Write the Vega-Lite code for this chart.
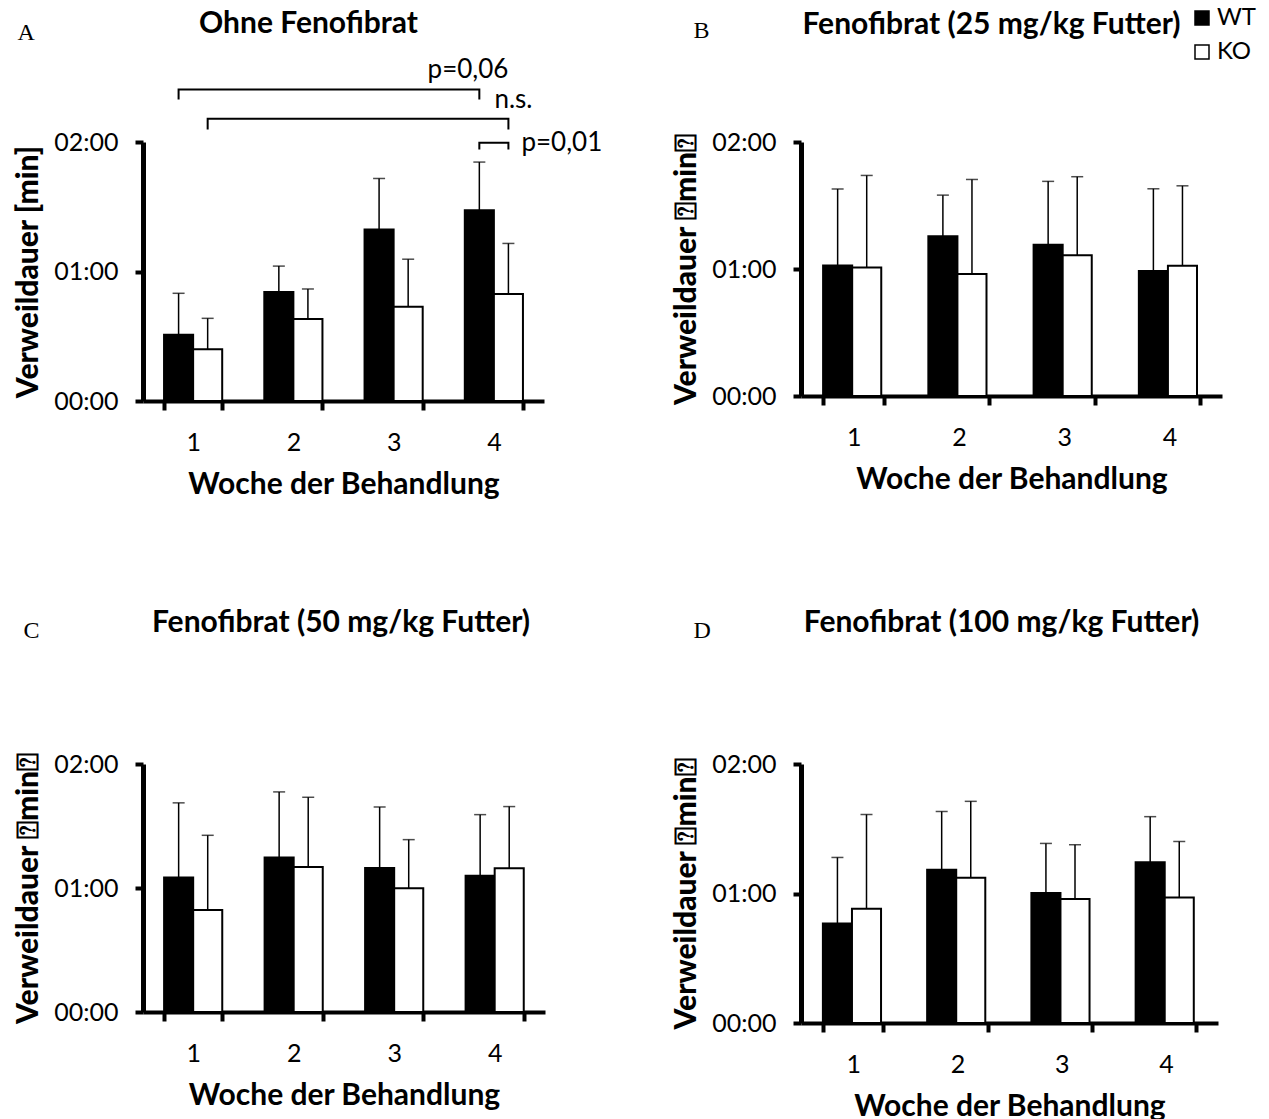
{
  "$schema": "https://vega.github.io/schema/vega-lite/v6.json",
  "padding": {"left": 13, "top": 6, "right": 5, "bottom": 0},
  "config": {
    "font": "Lato",
    "view": {"stroke": null},
    "axis": {"grid": false, "domainColor": "black", "tickColor": "black", "labelColor": "black", "titleColor": "black", "labelFont": "Lato", "titleFont": "Lato"},
    "axisBottom": {"domainWidth": 4, "tickWidth": 4, "tickSize": 9, "labelFontSize": 25, "labelPadding": 20, "labelAngle": 0, "tickBand": "extent", "titleFontSize": 30, "titleFontWeight": "bold", "titlePadding": 14},
    "axisLeft": {"domainWidth": 5, "tickWidth": 4, "tickSize": 8, "labelFontSize": 25, "labelPadding": 17, "titleFontSize": 30, "titleFontWeight": 900, "titlePadding": 10},
    "title": {"font": "Lato", "fontSize": 30, "fontWeight": "bold", "color": "black", "frame": "group", "anchor": "middle"}
  },
  "datasets": {
    "balken": [
      {"panel": "A", "woche": "1", "gruppe": "WT", "wert": 30.7, "oben": 49.9},
      {"panel": "A", "woche": "1", "gruppe": "KO", "wert": 24.0, "oben": 38.3},
      {"panel": "A", "woche": "2", "gruppe": "WT", "wert": 50.5, "oben": 62.5},
      {"panel": "A", "woche": "2", "gruppe": "KO", "wert": 38.0, "oben": 51.9},
      {"panel": "A", "woche": "3", "gruppe": "WT", "wert": 79.5, "oben": 103.1},
      {"panel": "A", "woche": "3", "gruppe": "KO", "wert": 43.7, "oben": 65.7},
      {"panel": "A", "woche": "4", "gruppe": "WT", "wert": 88.4, "oben": 110.7},
      {"panel": "A", "woche": "4", "gruppe": "KO", "wert": 49.6, "oben": 73.0},
      {"panel": "B", "woche": "1", "gruppe": "WT", "wert": 61.7, "oben": 97.8},
      {"panel": "B", "woche": "1", "gruppe": "KO", "wert": 60.7, "oben": 104.2},
      {"panel": "B", "woche": "2", "gruppe": "WT", "wert": 75.5, "oben": 94.9},
      {"panel": "B", "woche": "2", "gruppe": "KO", "wert": 57.6, "oben": 102.3},
      {"panel": "B", "woche": "3", "gruppe": "WT", "wert": 71.4, "oben": 101.4},
      {"panel": "B", "woche": "3", "gruppe": "KO", "wert": 66.5, "oben": 103.6},
      {"panel": "B", "woche": "4", "gruppe": "WT", "wert": 59.0, "oben": 97.9},
      {"panel": "B", "woche": "4", "gruppe": "KO", "wert": 61.5, "oben": 99.3},
      {"panel": "C", "woche": "1", "gruppe": "WT", "wert": 65.1, "oben": 101.2},
      {"panel": "C", "woche": "1", "gruppe": "KO", "wert": 49.3, "oben": 85.5},
      {"panel": "C", "woche": "2", "gruppe": "WT", "wert": 74.7, "oben": 106.5},
      {"panel": "C", "woche": "2", "gruppe": "KO", "wert": 70.2, "oben": 103.9},
      {"panel": "C", "woche": "3", "gruppe": "WT", "wert": 69.7, "oben": 99.2},
      {"panel": "C", "woche": "3", "gruppe": "KO", "wert": 59.9, "oben": 83.4},
      {"panel": "C", "woche": "4", "gruppe": "WT", "wert": 65.9, "oben": 95.5},
      {"panel": "C", "woche": "4", "gruppe": "KO", "wert": 69.6, "oben": 99.4},
      {"panel": "D", "woche": "1", "gruppe": "WT", "wert": 46.1, "oben": 76.7},
      {"panel": "D", "woche": "1", "gruppe": "KO", "wert": 52.9, "oben": 96.6},
      {"panel": "D", "woche": "2", "gruppe": "WT", "wert": 71.0, "oben": 98.0},
      {"panel": "D", "woche": "2", "gruppe": "KO", "wert": 67.3, "oben": 102.7},
      {"panel": "D", "woche": "3", "gruppe": "WT", "wert": 60.2, "oben": 83.2},
      {"panel": "D", "woche": "3", "gruppe": "KO", "wert": 57.4, "oben": 82.6},
      {"panel": "D", "woche": "4", "gruppe": "WT", "wert": 74.5, "oben": 95.6},
      {"panel": "D", "woche": "4", "gruppe": "KO", "wert": 58.1, "oben": 84.1}
    ],
    "klammern": [
      {"klammer": 1, "punkt": 1, "woche": "1", "gruppe": "WT", "y": 139.7},
      {"klammer": 1, "punkt": 2, "woche": "1", "gruppe": "WT", "y": 144.3},
      {"klammer": 1, "punkt": 3, "woche": "4", "gruppe": "WT", "y": 144.3},
      {"klammer": 1, "punkt": 4, "woche": "4", "gruppe": "WT", "y": 139.7},
      {"klammer": 2, "punkt": 1, "woche": "1", "gruppe": "KO", "y": 125.8},
      {"klammer": 2, "punkt": 2, "woche": "1", "gruppe": "KO", "y": 130.8},
      {"klammer": 2, "punkt": 3, "woche": "4", "gruppe": "KO", "y": 130.8},
      {"klammer": 2, "punkt": 4, "woche": "4", "gruppe": "KO", "y": 125.8},
      {"klammer": 3, "punkt": 1, "woche": "4", "gruppe": "WT", "y": 116.5},
      {"klammer": 3, "punkt": 2, "woche": "4", "gruppe": "WT", "y": 119.6},
      {"klammer": 3, "punkt": 3, "woche": "4", "gruppe": "KO", "y": 119.6},
      {"klammer": 3, "punkt": 4, "woche": "4", "gruppe": "KO", "y": 116.5}
    ],
    "texte": [
      {"text": "p=0,06", "woche": "4", "gruppe": "KO", "y": 149.7, "lage": "rechts"},
      {"text": "n.s.", "woche": "4", "gruppe": "KO", "y": 135.8, "lage": "mitte"},
      {"text": "p=0,01", "woche": "4", "gruppe": "KO", "y": 115.7, "lage": "links"}
    ]
  },
  "columns": 2,
  "spacing": {"row": 109, "column": 68},
  "resolve": {"scale": {"fill": "independent"}},
  "concat": [
    {
      "width": 401,
      "height": 259,
      "title": {"text": "Ohne Fenofibrat", "dx": -35, "offset": -19},
      "data": {"name": "balken"},
      "transform": [{"filter": "datum.panel === 'A'"}],
      "resolve": {"axis": {"y": "independent"}},
      "layer": [
        {
          "mark": {"type": "bar", "stroke": "black", "strokeWidth": 2},
          "encoding": {
            "x": {"field": "woche", "type": "nominal", "scale": {"paddingInner": 0.42, "paddingOuter": 0.21}, "axis": {"orient": "bottom", "title": "Woche der Behandlung"}},
            "xOffset": {"field": "gruppe", "scale": {"domain": ["WT", "KO"]}},
            "y": {"field": "wert", "type": "quantitative", "scale": {"domain": [0, 120], "nice": false}, "axis": {"orient": "left", "values": [0, 60, 120], "labelExpr": "format(datum.value / 60, '02d') + ':00'", "title": "Verweildauer [min]"}},
            "fill": {"field": "gruppe", "scale": {"domain": ["WT", "KO"], "range": ["black", "white"]}, "legend": null}
          }
        },
        {
          "mark": {"type": "rule", "strokeWidth": 1.5, "color": "black"},
          "encoding": {
            "x": {"field": "woche", "type": "nominal", "axis": null},
            "xOffset": {"field": "gruppe"},
            "y": {"field": "wert", "type": "quantitative", "axis": null},
            "y2": {"field": "oben"}
          }
        },
        {
          "mark": {"type": "tick", "orient": "horizontal", "size": 12, "thickness": 1.5, "color": "black"},
          "encoding": {
            "x": {"field": "woche", "type": "nominal", "axis": {"orient": "top", "domain": false, "ticks": false, "labels": false, "title": "A", "titleFont": "Liberation Serif", "titleFontSize": 24, "titleFontWeight": "normal", "titleX": -126, "titleY": -103, "titleAlign": "left", "titleBaseline": "alphabetic", "titleAngle": 0}},
            "xOffset": {"field": "gruppe"},
            "y": {"field": "oben", "type": "quantitative", "axis": null}
          }
        },
        {
          "data": {"name": "klammern"},
          "mark": {"type": "line", "strokeWidth": 2, "color": "black"},
          "encoding": {
            "x": {"field": "woche", "type": "nominal", "axis": null},
            "xOffset": {"field": "gruppe"},
            "y": {"field": "y", "type": "quantitative", "axis": null},
            "detail": {"field": "klammer"},
            "order": {"field": "punkt"}
          }
        },
        {
          "data": {"name": "texte"},
          "transform": [{"filter": "datum.lage === 'rechts'"}],
          "mark": {"type": "text", "align": "right", "baseline": "alphabetic", "fontSize": 26, "font": "Lato", "color": "black"},
          "encoding": {
            "x": {"field": "woche", "type": "nominal", "axis": null},
            "xOffset": {"field": "gruppe"},
            "y": {"field": "y", "type": "quantitative", "axis": null},
            "text": {"field": "text"}
          }
        },
        {
          "data": {"name": "texte"},
          "transform": [{"filter": "datum.lage === 'mitte'"}],
          "mark": {"type": "text", "align": "center", "dx": 5, "baseline": "alphabetic", "fontSize": 26, "font": "Lato", "color": "black"},
          "encoding": {
            "x": {"field": "woche", "type": "nominal", "axis": null},
            "xOffset": {"field": "gruppe"},
            "y": {"field": "y", "type": "quantitative", "axis": null},
            "text": {"field": "text"}
          }
        },
        {
          "data": {"name": "texte"},
          "transform": [{"filter": "datum.lage === 'links'"}],
          "mark": {"type": "text", "align": "left", "dx": 13, "baseline": "alphabetic", "fontSize": 26, "font": "Lato", "color": "black"},
          "encoding": {
            "x": {"field": "woche", "type": "nominal", "axis": null},
            "xOffset": {"field": "gruppe"},
            "y": {"field": "y", "type": "quantitative", "axis": null},
            "text": {"field": "text"}
          }
        }
      ]
    },
    {
      "width": 421,
      "height": 254,
      "title": {"text": "Fenofibrat (25 mg/kg Futter)", "dx": -20, "offset": -34},
      "data": {"name": "balken"},
      "transform": [{"filter": "datum.panel === 'B'"}],
      "resolve": {"axis": {"y": "independent"}},
      "layer": [
        {
          "mark": {"type": "bar", "stroke": "black", "strokeWidth": 2},
          "encoding": {
            "x": {"field": "woche", "type": "nominal", "scale": {"paddingInner": 0.42, "paddingOuter": 0.21}, "axis": {"orient": "bottom", "title": "Woche der Behandlung"}},
            "xOffset": {"field": "gruppe", "scale": {"domain": ["WT", "KO"]}},
            "y": {"field": "wert", "type": "quantitative", "scale": {"domain": [0, 120], "nice": false}, "axis": {"orient": "left", "values": [0, 60, 120], "labelExpr": "format(datum.value / 60, '02d') + ':00'", "title": "Verweildauer ⍰min⍰"}},
            "fill": {"field": "gruppe", "scale": {"domain": ["WT", "KO"], "range": ["black", "white"]}, "legend": {"orient": "none", "legendX": 389, "legendY": -136, "title": null, "symbolType": "square", "symbolSize": 196, "symbolStrokeColor": "black", "symbolStrokeWidth": 1.5, "labelFontSize": 24, "labelFont": "Lato", "labelColor": "black", "rowPadding": 10, "labelOffset": 3}}
          }
        },
        {
          "mark": {"type": "rule", "strokeWidth": 1.5, "color": "black"},
          "encoding": {
            "x": {"field": "woche", "type": "nominal", "axis": null},
            "xOffset": {"field": "gruppe"},
            "y": {"field": "wert", "type": "quantitative", "axis": null},
            "y2": {"field": "oben"}
          }
        },
        {
          "mark": {"type": "tick", "orient": "horizontal", "size": 12, "thickness": 1.5, "color": "black"},
          "encoding": {
            "x": {"field": "woche", "type": "nominal", "axis": {"orient": "top", "domain": false, "ticks": false, "labels": false, "title": "B", "titleFont": "Liberation Serif", "titleFontSize": 24, "titleFontWeight": "normal", "titleX": -108, "titleY": -105, "titleAlign": "left", "titleBaseline": "alphabetic", "titleAngle": 0}},
            "xOffset": {"field": "gruppe"},
            "y": {"field": "oben", "type": "quantitative", "axis": null}
          }
        }
      ]
    },
    {
      "width": 402,
      "height": 248,
      "title": {"text": "Fenofibrat (50 mg/kg Futter)", "dx": -3, "offset": -20},
      "data": {"name": "balken"},
      "transform": [{"filter": "datum.panel === 'C'"}],
      "resolve": {"axis": {"y": "independent"}},
      "layer": [
        {
          "mark": {"type": "bar", "stroke": "black", "strokeWidth": 2},
          "encoding": {
            "x": {"field": "woche", "type": "nominal", "scale": {"paddingInner": 0.42, "paddingOuter": 0.21}, "axis": {"orient": "bottom", "title": "Woche der Behandlung"}},
            "xOffset": {"field": "gruppe", "scale": {"domain": ["WT", "KO"]}},
            "y": {"field": "wert", "type": "quantitative", "scale": {"domain": [0, 120], "nice": false}, "axis": {"orient": "left", "values": [0, 60, 120], "labelExpr": "format(datum.value / 60, '02d') + ':00'", "title": "Verweildauer ⍰min⍰"}},
            "fill": {"field": "gruppe", "scale": {"domain": ["WT", "KO"], "range": ["black", "white"]}, "legend": null}
          }
        },
        {
          "mark": {"type": "rule", "strokeWidth": 1.5, "color": "black"},
          "encoding": {
            "x": {"field": "woche", "type": "nominal", "axis": null},
            "xOffset": {"field": "gruppe"},
            "y": {"field": "wert", "type": "quantitative", "axis": null},
            "y2": {"field": "oben"}
          }
        },
        {
          "mark": {"type": "tick", "orient": "horizontal", "size": 12, "thickness": 1.5, "color": "black"},
          "encoding": {
            "x": {"field": "woche", "type": "nominal", "axis": {"orient": "top", "domain": false, "ticks": false, "labels": false, "title": "C", "titleFont": "Liberation Serif", "titleFontSize": 24, "titleFontWeight": "normal", "titleX": -120, "titleY": -127, "titleAlign": "left", "titleBaseline": "alphabetic", "titleAngle": 0}},
            "xOffset": {"field": "gruppe"},
            "y": {"field": "oben", "type": "quantitative", "axis": null}
          }
        }
      ]
    },
    {
      "width": 417,
      "height": 259,
      "title": {"text": "Fenofibrat (100 mg/kg Futter)", "dx": -8, "offset": -20},
      "data": {"name": "balken"},
      "transform": [{"filter": "datum.panel === 'D'"}],
      "resolve": {"axis": {"y": "independent"}},
      "layer": [
        {
          "mark": {"type": "bar", "stroke": "black", "strokeWidth": 2},
          "encoding": {
            "x": {"field": "woche", "type": "nominal", "scale": {"paddingInner": 0.42, "paddingOuter": 0.21}, "axis": {"orient": "bottom", "title": "Woche der Behandlung"}},
            "xOffset": {"field": "gruppe", "scale": {"domain": ["WT", "KO"]}},
            "y": {"field": "wert", "type": "quantitative", "scale": {"domain": [0, 120], "nice": false}, "axis": {"orient": "left", "values": [0, 60, 120], "labelExpr": "format(datum.value / 60, '02d') + ':00'", "title": "Verweildauer ⍰min⍰"}},
            "fill": {"field": "gruppe", "scale": {"domain": ["WT", "KO"], "range": ["black", "white"]}, "legend": null}
          }
        },
        {
          "mark": {"type": "rule", "strokeWidth": 1.5, "color": "black"},
          "encoding": {
            "x": {"field": "woche", "type": "nominal", "axis": null},
            "xOffset": {"field": "gruppe"},
            "y": {"field": "wert", "type": "quantitative", "axis": null},
            "y2": {"field": "oben"}
          }
        },
        {
          "mark": {"type": "tick", "orient": "horizontal", "size": 12, "thickness": 1.5, "color": "black"},
          "encoding": {
            "x": {"field": "woche", "type": "nominal", "axis": {"orient": "top", "domain": false, "ticks": false, "labels": false, "title": "D", "titleFont": "Liberation Serif", "titleFontSize": 24, "titleFontWeight": "normal", "titleX": -108, "titleY": -127, "titleAlign": "left", "titleBaseline": "alphabetic", "titleAngle": 0}},
            "xOffset": {"field": "gruppe"},
            "y": {"field": "oben", "type": "quantitative", "axis": null}
          }
        }
      ]
    }
  ]
}
